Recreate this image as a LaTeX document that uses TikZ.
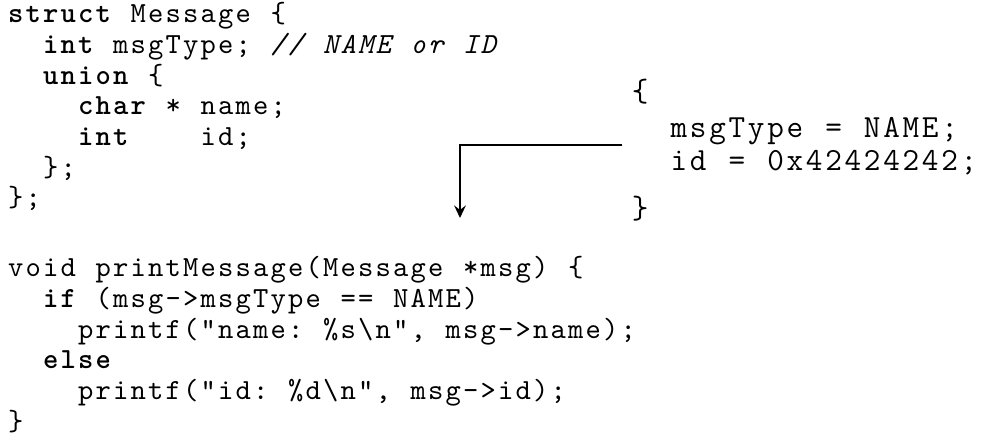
\documentclass[tikz,border=0pt]{standalone}
\usetikzlibrary{arrows.meta}
\makeatletter
% typeset every token in a fixed-width cell, like a listing with fixed columns
\newcommand\cgrid[1]{\@tfor\cg@tok:=#1\do{\makebox[0.6em][c]{\cg@tok}}}
\makeatother
\newcommand\cg[1]{\cgrid{#1}}
\newcommand\kw[1]{{\bfseries\cgrid{#1}}}
\newcommand\cmt[1]{{\itshape\cgrid{#1}}}
\tikzset{
  codeline/.style={inner sep=0pt, anchor=base west, font=\ttfamily\fontsize{10.5}{12}\selectfont},
  bigline/.style={inner sep=0pt, anchor=base west, font=\ttfamily\fontsize{11.6}{14}\selectfont},
  flow/.style={line width=0.95pt, -{Stealth[length=4.5pt,width=4.2pt,inset=1.6pt]}}
}
\begin{document}
\begin{tikzpicture}[x=0.36pt,y=-0.36pt]
\useasboundingbox (0,0) rectangle (984,443);
% struct definition
\node[codeline] (s1) at (6.5,22.7)  {\kw{struct}\cg{~Message~\{}};
\node[codeline] (s2) at (6.5,53.4)  {\cg{~~}\kw{int}\cg{~msgType;~}\cmt{//~NAME~or~ID}};
\node[codeline] (s3) at (6.5,84.1)  {\cg{~~}\kw{union}\cg{~\{}};
\node[codeline] (s4) at (6.5,114.8) {\cg{~~~~}\kw{char}\cg{~*~name;}};
\node[codeline] (s5) at (6.5,145.5) {\cg{~~~~}\kw{int}\cg{~~~~id;}};
\node[codeline] (s6) at (6.5,176.2) {\cg{~~\};}};
\node[codeline] (s7) at (6.5,206.9) {\cg{\};}};
% print function
\node[codeline] (f1) at (6.5,276.7) {\cg{void~printMessage(Message~*msg)~\{}};
\node[codeline] (f2) at (6.5,307.4) {\cg{~~}\kw{if}\cg{~(msg->msgType~==~NAME)}};
\node[codeline] (f3) at (6.5,338.1) {\cg{~~~~printf("name:~\%s\textbackslash n",~msg->name);}};
\node[codeline] (f4) at (6.5,368.8) {\cg{~~}\kw{else}};
\node[codeline] (f5) at (6.5,399.5) {\cg{~~~~printf("id:~\%d\textbackslash n",~msg->id);}};
\node[codeline] (f6) at (6.5,430.2) {\cg{\}}};
% message contents
\node[bigline] (m1) at (630,102) {\cg{\{}};
\node[bigline] (m2) at (630,138) {\cg{~~msgType~=~NAME;}};
\node[bigline] (m3) at (630,171) {\cg{~~id~=~0x42424242;}};
\node[bigline] (m4) at (630,219) {\cg{\}}};
% arrow from the contents into the code
\coordinate (src) at (622,145);
\coordinate (dst) at (460,218);
\draw[flow] (src) -| (dst);
\end{tikzpicture}
\end{document}
